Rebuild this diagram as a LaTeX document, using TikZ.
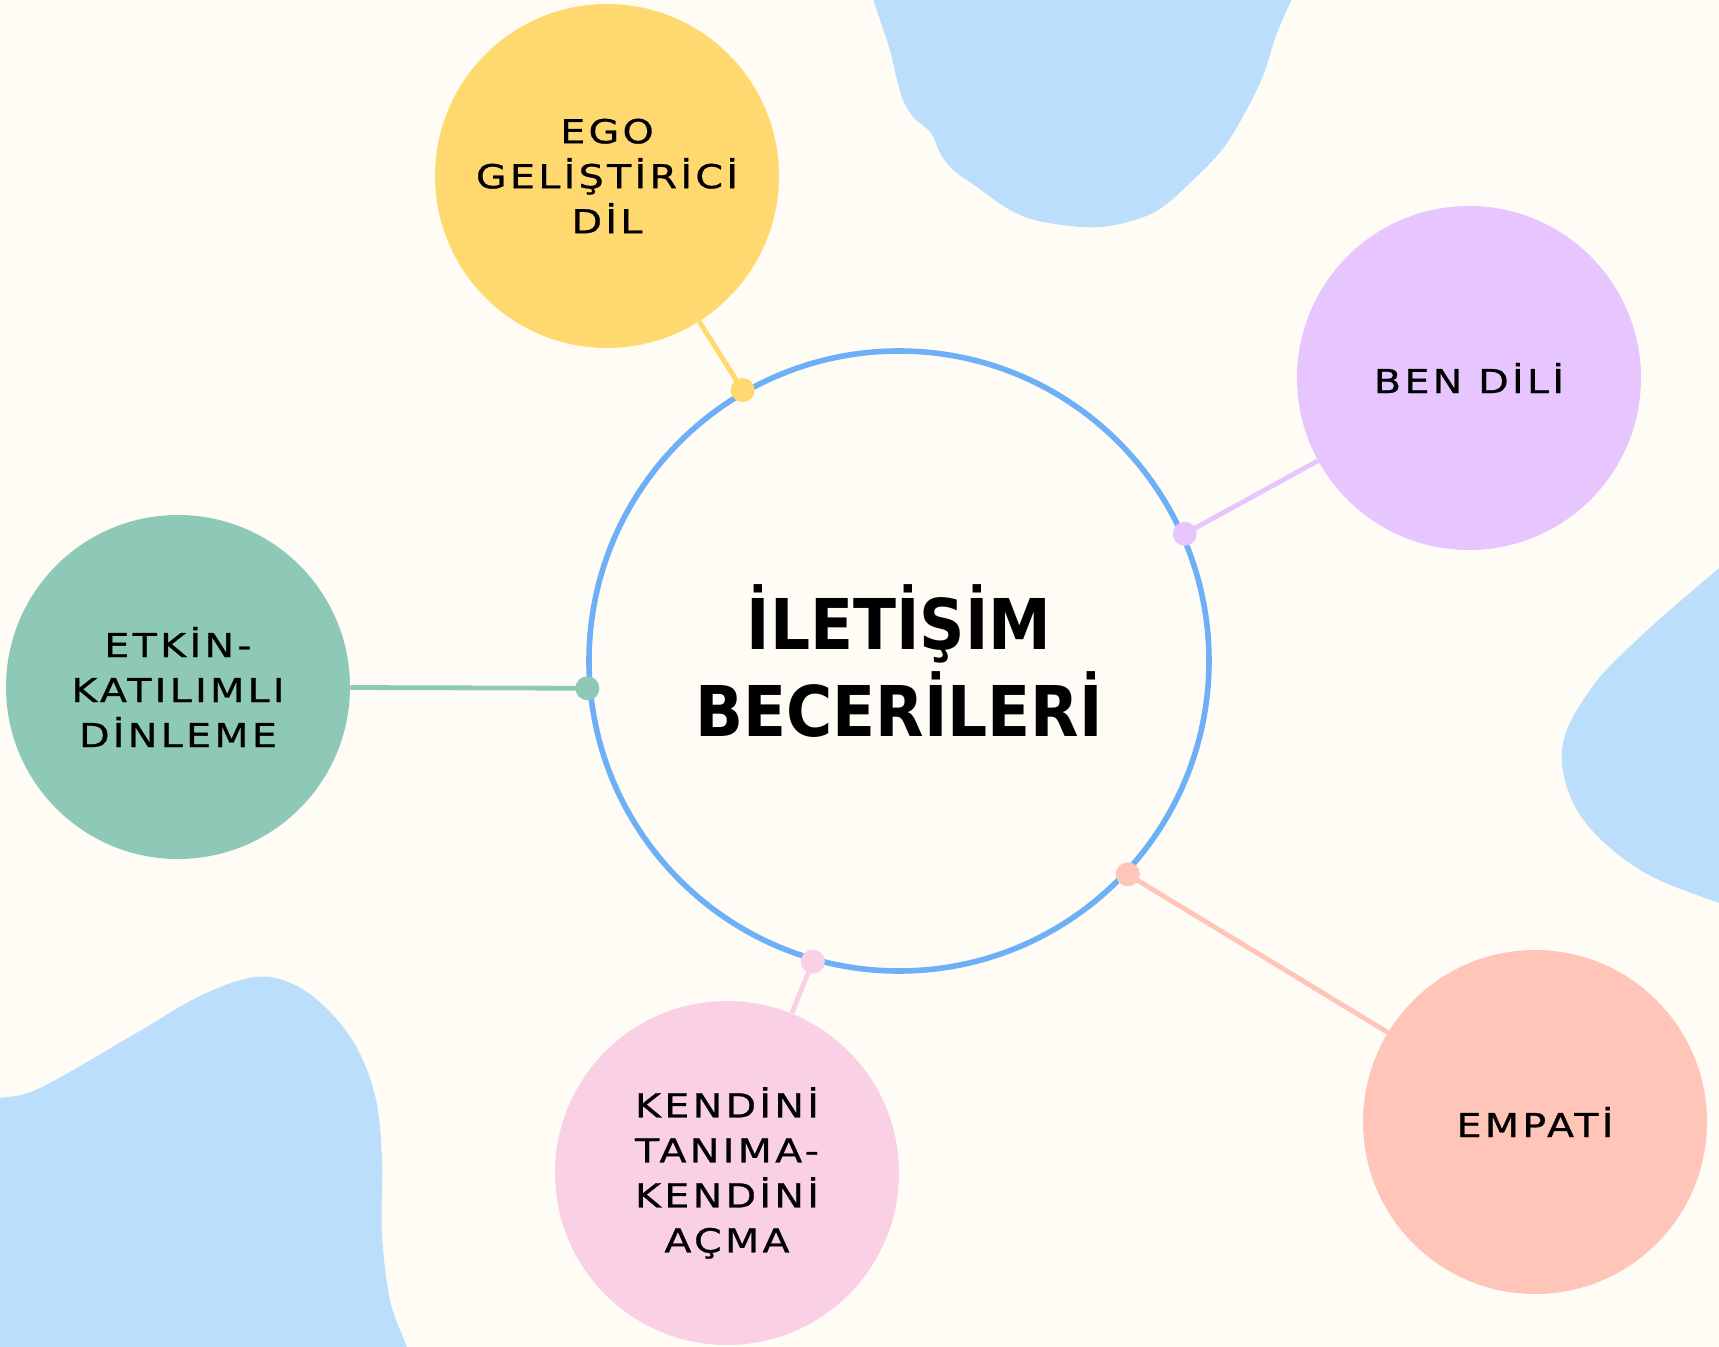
\documentclass[tikz,border=0pt]{standalone}
\usepackage{fontspec}
\setmainfont{DejaVu Sans}
\newfontfamily\labelfont[LetterSpace=10,FakeStretch=1.2,FakeBold=0.8]{DejaVu Sans}
\newfontfamily\titlefont{DejaVu Sans Condensed}
\definecolor{paper}{HTML}{FFFCF5}
\definecolor{blobblue}{HTML}{BBDEFD}
\definecolor{hubblue}{HTML}{6DB0F7}
\definecolor{egoyellow}{HTML}{FFD970}
\definecolor{benpurple}{HTML}{E7C6FF}
\definecolor{etkingreen}{HTML}{8DC9B6}
\definecolor{kendipink}{HTML}{FAD0E5}
\definecolor{empasalmon}{HTML}{FFC5B9}
\begin{document}
\begin{tikzpicture}[x=0.5pt,y=-0.5pt,line join=bevel,
  bubble/.style={circle,draw=none,fill=#1,minimum size=172pt,inner sep=0pt,align=center,
    font=\labelfont\fontsize{16.5}{22.5}\selectfont},
  link/.style={#1,line width=2.4pt},
  knob/.style={fill=#1}]
%%
\useasboundingbox (0,0) rectangle (1719,1347);
\fill [paper] (0,0) rectangle (1719,1347);
%
\fill [blobblue] plot [smooth,tension=0.55] coordinates {(870,-10) (880,20) (890,50) (897,80) (903,100) (913,117) (925,127) (933,136) (940,153) (953,170) (977,187) (1010,210) (1043,222) (1100,227) (1153,213) (1193,180) (1227,143) (1260,83) (1277,33) (1296,-10)} -- cycle;
\fill [blobblue] plot [smooth,tension=0.6] coordinates {(1735,555) (1719,568) (1640,637) (1590,690) (1562,750) (1580,815) (1640,870) (1719,903) (1735,908)} -- cycle;
\fill [blobblue] plot [smooth,tension=0.6] coordinates {(-10,1100) (0,1098) (40,1088) (133,1035) (200,996) (255,977) (295,985) (330,1012) (358,1050) (376,1100) (382,1160) (382,1233) (390,1300) (407,1347) (412,1360)} -- (-10,1360) -- cycle;
%
\node (hub) at (899,661) [circle,draw=hubblue,line width=2.8pt,fill=paper,minimum size=310pt,align=center,
  font=\titlefont\bfseries\fontsize{35}{43.5}\selectfont] {İLETİŞİM\\BECERİLERİ};
\node (ego) at (607,176) [bubble=egoyellow] {EGO\\GELİŞTİRİCİ\\DİL};
\node (ben) at (1469,378) [bubble=benpurple] {BEN DİLİ};
\node (etkin) at (178,687) [bubble=etkingreen] {ETKİN-\\KATILIMLI\\DİNLEME};
\node (kendi) at (727,1173) [bubble=kendipink] {KENDİNİ\\TANIMA-\\KENDİNİ\\AÇMA};
\node (empati) at (1535,1122) [bubble=empasalmon] {EMPATİ};
%
\coordinate (egodot) at (hub.120);
\coordinate (bendot) at (hub.24);
\coordinate (etkindot) at (hub.185);
\coordinate (kendidot) at (hub.254);
\coordinate (empatidot) at (hub.317);
%
\draw [link=egoyellow] (ego) -- (egodot);
\draw [link=benpurple] (ben) -- (bendot);
\draw [link=etkingreen] (etkin) -- (etkindot);
\draw [link=kendipink] (kendi) -- (kendidot);
\draw [link=empasalmon] (empati) -- (empatidot);
%
\fill [knob=egoyellow] (egodot) circle (6pt);
\fill [knob=benpurple] (bendot) circle (6pt);
\fill [knob=etkingreen] (etkindot) circle (6pt);
\fill [knob=kendipink] (kendidot) circle (6pt);
\fill [knob=empasalmon] (empatidot) circle (6pt);
%
\end{tikzpicture}
\end{document}
